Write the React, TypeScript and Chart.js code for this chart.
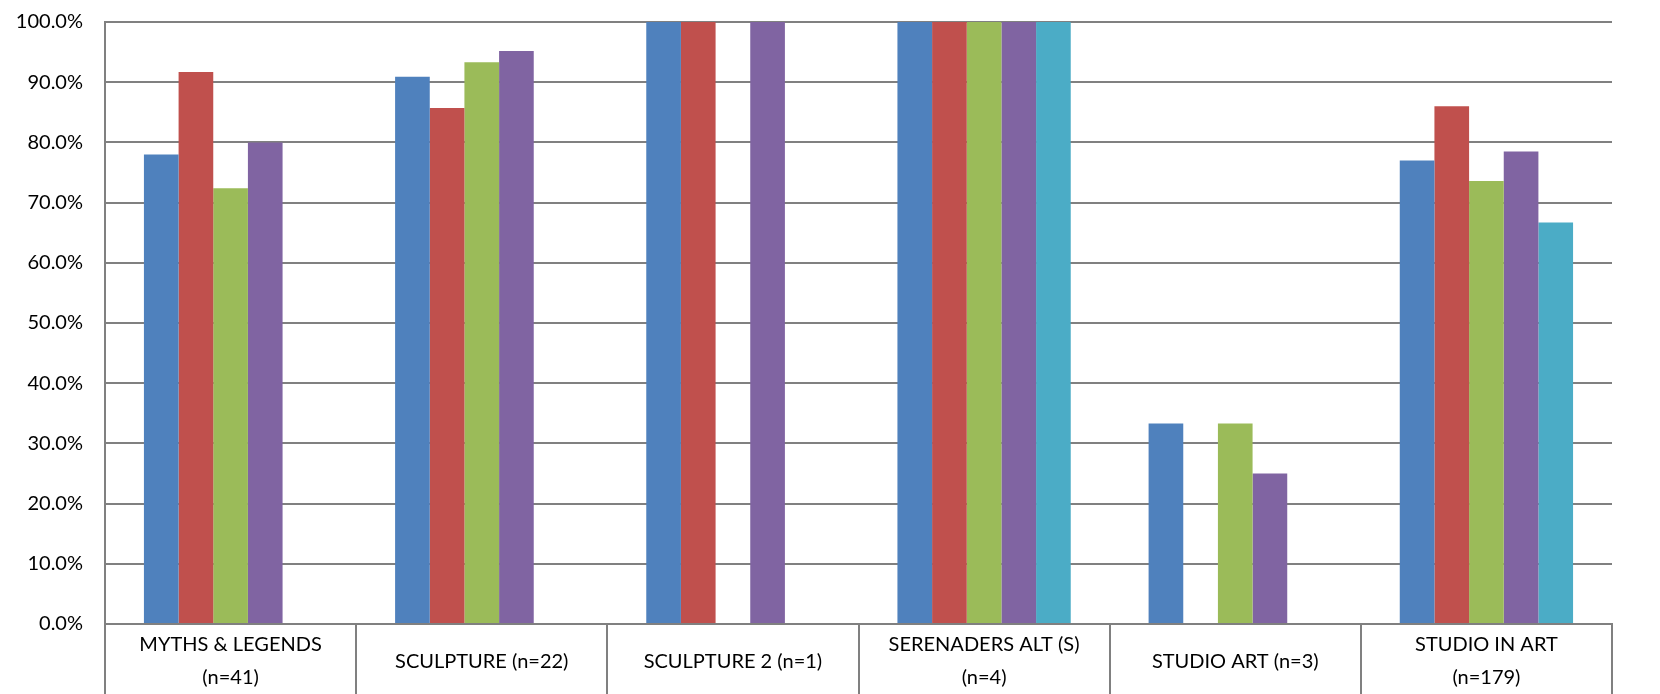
import React, { useEffect, useRef } from "react";
import { Chart, registerables } from "chart.js";

Chart.register(...registerables);

const categories: (string | string[])[] = [
  ["MYTHS & LEGENDS", "(n=41)"],
  "SCULPTURE (n=22)",
  "SCULPTURE 2 (n=1)",
  ["SERENADERS ALT (S)", "(n=4)"],
  "STUDIO ART (n=3)",
  ["STUDIO IN ART", "(n=179)"],
];

const series1: (number | null)[] = [0.78, 0.909, 1.0, 1.0, 0.333, 0.77];
const series2: (number | null)[] = [0.917, 0.857, 1.0, 1.0, null, 0.86];
const series3: (number | null)[] = [0.724, 0.933, null, 1.0, 0.333, 0.736];
const series4: (number | null)[] = [0.8, 0.952, 1.0, 1.0, 0.25, 0.785];
const series5: (number | null)[] = [null, null, null, 1.0, null, 0.667];

const colors = ["#4F81BD", "#C0504D", "#9BBB59", "#8064A2", "#4BACC6"];
const FONT = "Lato, 'Open Sans', sans-serif";

export default function App() {
  const ref = useRef<HTMLCanvasElement>(null);
  useEffect(() => {
    if (!ref.current) return;
    const all = [series1, series2, series3, series4, series5];
    const chart = new Chart(ref.current, {
      type: "bar",
      data: {
        labels: categories,
        datasets: all.map((d, i) => ({
          label: "Series " + (i + 1),
          data: d,
          backgroundColor: colors[i],
          borderWidth: 0,
          categoryPercentage: 0.69,
          barPercentage: 1.0,
        })),
      },
      options: {
        responsive: false,
        animation: false,
        layout: { padding: { top: 22, left: 13, right: 48, bottom: 0 } },
        plugins: { legend: { display: false }, tooltip: { enabled: false } },
        scales: {
          x: {
            offset: true,
            afterFit: (s: any) => {
              s.height = 70;
            },
            grid: {
              display: true,
              offset: true,
              drawOnChartArea: false,
              drawTicks: true,
              tickLength: 70,
              color: "#808080",
              lineWidth: 2,
            },
            border: { display: true, color: "#808080", width: 2 },
            ticks: {
              color: "#000",
              padding: -49,
              crossAlign: "center",
              maxRotation: 0,
              autoSkip: false,
              font: { family: FONT, size: 20, lineHeight: 1.65 },
            },
          },
          y: {
            min: 0,
            max: 1,
            afterFit: (s: any) => {
              s.width = 92;
              s.paddingTop = 10;
              s.paddingBottom = 10;
            },
            grid: { color: "#808080", lineWidth: 2, drawTicks: false },
            border: { display: true, color: "#808080", width: 2 },
            ticks: {
              stepSize: 0.1,
              padding: 22,
              color: "#000",
              font: { family: FONT, size: 20 },
              callback: (v: any) => (Number(v) * 100).toFixed(1) + "%",
            },
          },
        },
      },
    });
    return () => chart.destroy();
  }, []);
  return (
    <div style={{ width: 1660, height: 694 }}>
      <style>{`body{margin:0;overflow:hidden}`}</style>
      <canvas ref={ref} width={1660} height={694} />
    </div>
  );
}
